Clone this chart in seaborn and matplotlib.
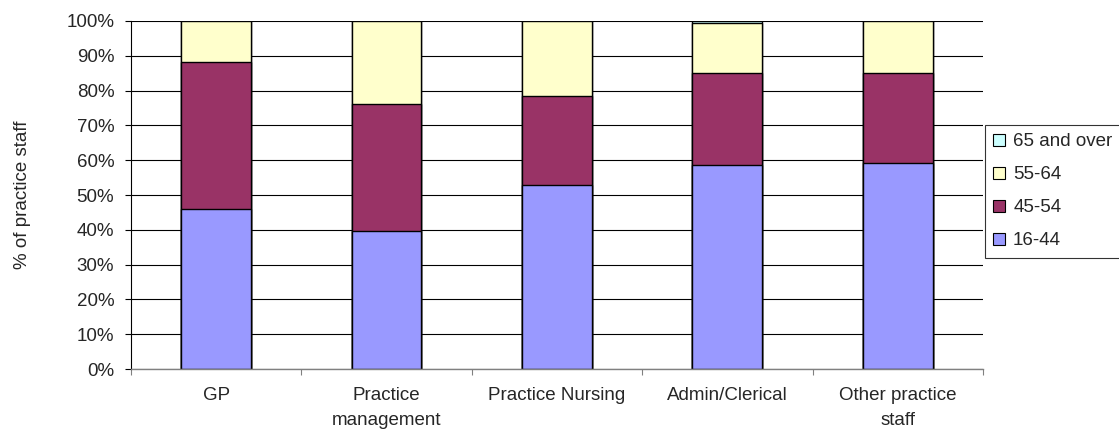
import matplotlib
matplotlib.use('Agg')
import matplotlib.pyplot as plt
from matplotlib.patches import Patch
from matplotlib.ticker import FixedLocator, PercentFormatter
import numpy as np
import seaborn as sns

# Staff groups and age-band shares (% of practice staff)
groups = ['GP', 'Practice\nmanagement', 'Practice Nursing', 'Admin/Clerical', 'Other practice\nstaff']
age_16_44 = [46.1, 39.8, 53.0, 58.5, 59.3]
age_45_54 = [42.0, 36.4, 25.4, 26.6, 25.8]
age_55_64 = [11.9, 23.8, 21.6, 14.3, 14.9]
age_65_over = [0.0, 0.0, 0.0, 0.6, 0.0]

bands = ['16-44', '45-54', '55-64', '65 and over']
colors = ['#9999FF', '#993366', '#FFFFCC', '#CCFFFF']

sns.set_style('white')
plt.rcParams['font.family'] = ['Liberation Sans', 'DejaVu Sans']
plt.rcParams['font.size'] = 13.5

fig = plt.figure(figsize=(11.19, 4.32), dpi=100)
ax = fig.add_axes([0.117, 0.1458, 0.7614, 0.8056])

# stacked bars: draw the cumulative totals back to front
stack = np.array([age_16_44, age_45_54, age_55_64, age_65_over])
cum = np.cumsum(stack, axis=0)
for i in range(len(bands) - 1, -1, -1):
    sns.barplot(x=groups, y=cum[i], color=colors[i], saturation=1, width=0.41,
                edgecolor='black', linewidth=1.0, errorbar=None, ax=ax)

ax.set_ylim(0, 100)
ax.set_xlim(-0.5, len(groups) - 0.5)
ax.set_yticks(np.arange(0, 101, 10))
ax.yaxis.set_major_formatter(PercentFormatter(decimals=0))
ax.set_axisbelow(True)
ax.yaxis.grid(True, color='black', linewidth=0.8)
ax.xaxis.grid(False)

for side in ['top', 'right']:
    ax.spines[side].set_visible(False)
ax.spines['left'].set_color('black')
ax.spines['left'].set_linewidth(0.8)
ax.spines['bottom'].set_color('#808080')
ax.spines['bottom'].set_linewidth(1.0)

ax.tick_params(axis='y', which='major', left=True, length=4, width=0.8, color='black', pad=8)
ax.tick_params(axis='x', which='major', bottom=False, length=0, pad=13)
ax.xaxis.set_minor_locator(FixedLocator(np.arange(-0.5, len(groups), 1.0)))
ax.tick_params(axis='x', which='minor', bottom=True, length=4, width=0.8, color='#808080')
for lbl in ax.get_xticklabels():
    lbl.set_linespacing(1.6)
    lbl.set_verticalalignment('top')

ax.set_xlabel('')
ax.set_ylabel('% of practice staff')
ax.yaxis.set_label_coords(-0.117, 0.5)

handles = [Patch(facecolor=colors[i], edgecolor='black', linewidth=0.8, label=bands[i])
           for i in range(len(bands) - 1, -1, -1)]
leg = fig.legend(handles=handles, loc='upper left', bbox_to_anchor=(985 / 1119, 1 - 125 / 432),
                 borderaxespad=0, frameon=True, fancybox=False, handlelength=0.6,
                 handleheight=0.6, handletextpad=0.45, labelspacing=0.85, borderpad=0.45)
leg.get_frame().set_edgecolor('black')
leg.get_frame().set_linewidth(0.8)

fig.savefig('out.png', dpi=100)
